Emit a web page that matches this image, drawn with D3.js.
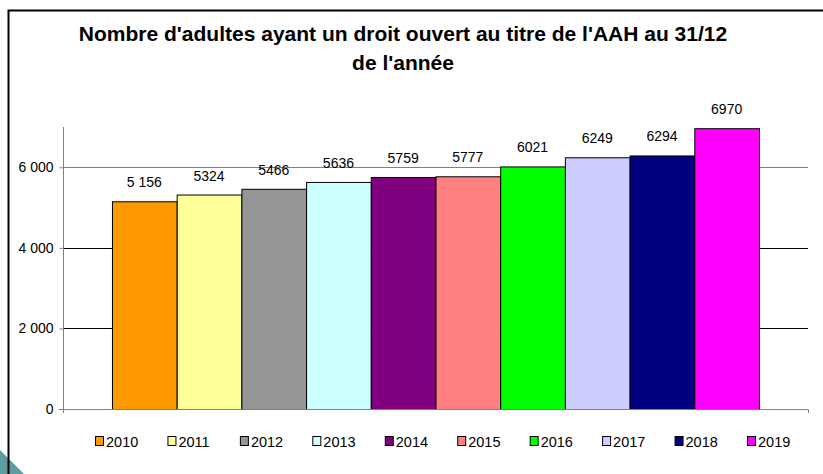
<!DOCTYPE html>
<html lang="fr">
<head>
<meta charset="utf-8" />
<script src="https://d3js.org/d3.v7.min.js"></script>
<style>
  html, body { margin: 0; padding: 0; background: #fff; }
  svg { display: block; font-family: Arial, "Liberation Sans", sans-serif; }
</style>
</head>
<body>
<svg id="canvas" width="823" height="474"></svg>
<script>
// data
var years = ["2010","2011","2012","2013","2014","2015","2016","2017","2018","2019"];
var values = [5156, 5324, 5466, 5636, 5759, 5777, 6021, 6249, 6294, 6970];
var labels = ["5 156","5324","5466","5636","5759","5777","6021","6249","6294","6970"];
var colors = ["#FF9900","#FFFF99","#969696","#CCFFFF","#800080","#FF8080","#00FF00","#CCCCFF","#000080","#FF00FF"];
var yTicks = [0, 2000, 4000, 6000];
var titleLines = ["Nombre d'adultes ayant un droit ouvert au titre de l'AAH au 31/12", "de l'année"];

var svg = d3.select("#canvas");

// slide frame + corner decoration
svg.append("path")
  .attr("d", "M0,474 L0,450 L24,474 Z")
  .attr("fill", "#5f9ea0");
svg.append("path")
  .attr("d", "M8.5,474 V10.5 H823")
  .attr("fill", "none")
  .attr("stroke", "#000")
  .attr("stroke-width", 2);

var plot = {left: 63, right: 808, top: 127, bottom: 409};

var x = d3.scaleBand()
  .domain(years)
  .range([plot.left, plot.right])
  .paddingInner(0)
  .paddingOuter(0.757);

var y = d3.scaleLinear()
  .domain([0, 7000])
  .range([plot.bottom, plot.top]);

// title
svg.append("text")
  .attr("x", 403).attr("y", 41)
  .attr("text-anchor", "middle")
  .attr("font-size", 21).attr("font-weight", "bold")
  .selectAll("tspan").data(titleLines).enter().append("tspan")
  .attr("x", 403)
  .attr("dy", function(d, i){ return i === 0 ? 0 : 29; })
  .text(function(d){ return d; });

// gridlines
svg.append("g")
  .selectAll("line").data(yTicks.filter(function(d){ return d > 0; })).enter().append("line")
  .attr("x1", plot.left).attr("x2", plot.right)
  .attr("y1", function(d){ return Math.round(y(d)) + 0.5; })
  .attr("y2", function(d){ return Math.round(y(d)) + 0.5; })
  .attr("stroke", function(d){ return d === 6000 ? "#808080" : "#000"; })
  .attr("stroke-width", 1);

// y axis
var yAxis = svg.append("g")
  .attr("transform", "translate(" + (plot.left + 0.5) + ",0)")
  .call(d3.axisLeft(y).tickValues(yTicks).tickSize(4).tickPadding(6)
    .tickFormat(function(d){ return d3.format(",")(d).replace(",", " "); }));
yAxis.select(".domain").attr("stroke", "#808080").attr("d", "M0," + plot.top + "V" + (plot.bottom + 4));
yAxis.selectAll(".tick line").attr("stroke", "#808080");
yAxis.selectAll(".tick text").attr("font-size", 14).attr("fill", "#000").attr("font-family", "Arial, 'Liberation Sans', sans-serif");

// bars
svg.append("g")
  .selectAll("rect").data(years).enter().append("rect")
  .attr("x", function(d){ return x(d) + 0.5; })
  .attr("y", function(d, i){ return y(values[i]) + 0.5; })
  .attr("width", x.bandwidth())
  .attr("height", function(d, i){ return y(0) - y(values[i]); })
  .attr("fill", function(d, i){ return colors[i]; })
  .attr("stroke", "#000")
  .attr("stroke-width", 1);

// x axis baseline
svg.append("path")
  .attr("d", "M" + (plot.left - 4) + "," + (Math.round(y(0)) + 0.5) + "H" + (plot.right + 0.5) + "V" + (Math.round(y(0)) + 4))
  .attr("fill", "none")
  .attr("stroke", "#808080");

// value labels
svg.append("g")
  .selectAll("text").data(years).enter().append("text")
  .attr("x", function(d){ return x(d) + x.bandwidth() / 2; })
  .attr("y", function(d, i){ return y(values[i]) - 14; })
  .attr("text-anchor", "middle")
  .attr("font-size", 14)
  .text(function(d, i){ return labels[i]; });

// legend
var lx = d3.scalePoint().domain(years).range([95, 747]);
var leg = svg.append("g").selectAll("g").data(years).enter().append("g")
  .attr("transform", function(d){ return "translate(" + lx(d) + ",441)"; });
leg.append("rect")
  .attr("x", 0.5).attr("y", -4.5).attr("width", 8).attr("height", 9)
  .attr("fill", function(d, i){ return colors[i]; })
  .attr("stroke", "#000");
leg.append("text")
  .attr("x", 11).attr("y", 5.5)
  .attr("font-size", 14.5)
  .text(function(d){ return d; });
</script>
</body>
</html>
